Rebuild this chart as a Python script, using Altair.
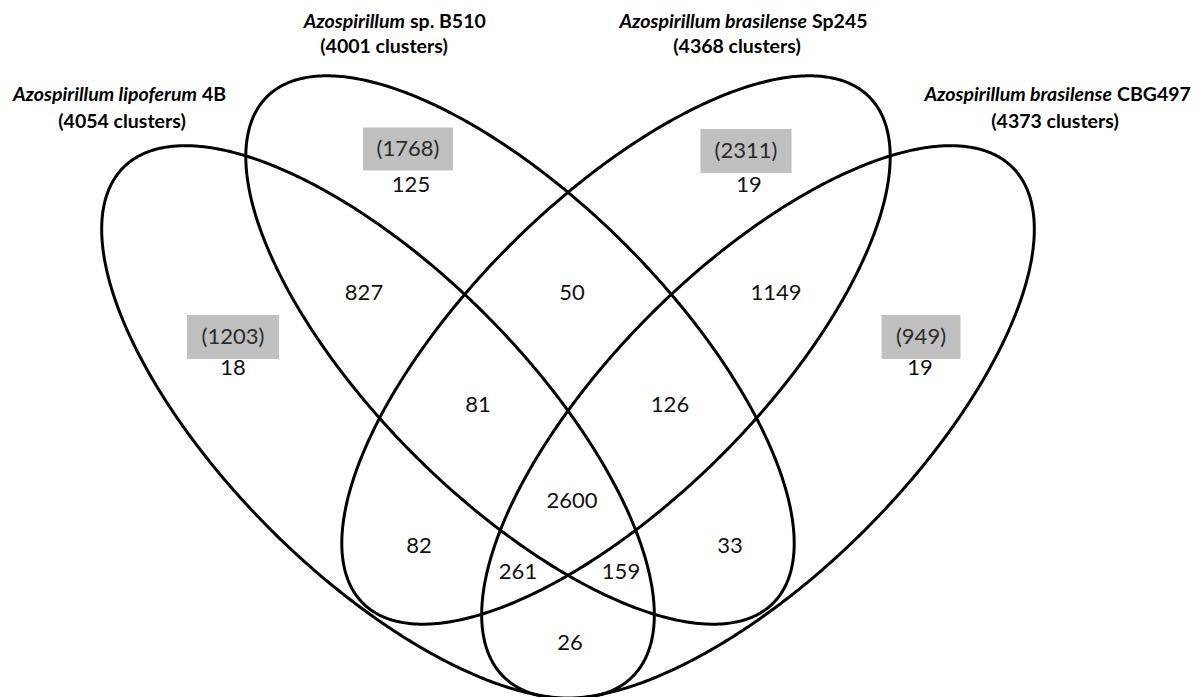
import altair as alt
import numpy as np
import pandas as pd

# ---- sets (ellipses) ----
set_names = ["A. lipoferum 4B", "Azospirillum sp. B510", "A. brasilense Sp245", "A. brasilense CBG497"]
ell_cx = [378, 520, 616, 758]
ell_cy = [422, 350, 350, 422]
ell_a = [360, 358, 358, 360]
ell_b = [152, 149, 149, 152]
ell_angle = [45, 45, -45, -45]

# ---- region counts ----
region_values = ["125", "19", "18", "19", "827", "50", "1149", "81", "126",
                 "2600", "82", "33", "261", "159", "26"]
region_x = [411, 749, 233, 920, 364, 572, 776, 478, 670, 572, 419, 730, 518, 621, 570]
region_y = [185, 185, 368, 368, 293, 293, 293, 405, 405, 501, 546, 546, 572, 572, 643]

# ---- unique-gene counts (grey boxes) ----
unique_values = ["(1768)", "(2311)", "(1203)", "(949)"]
unique_x = [408, 746, 233, 921]
unique_y = [149, 151, 337, 337]
box_w = [90, 91, 92, 79]
box_h = [43, 44, 44, 44]

# ---- titles ----
title_italic = ["Azospirillum lipoferum", "Azospirillum", "Azospirillum  brasilense", "Azospirillum  brasilense"]
title_plain = ["4B", "sp. B510", "Sp245", "CBG497"]
title_clusters = ["(4054 clusters)", "(4001 clusters)", "(4368 clusters)", "(4373 clusters)"]
title_split = [197, 405, 807, 1112]
title_center = [122, 384, 737, 1055]
title_y1 = [95, 22, 22, 95]
title_y2 = [122, 47, 47, 122]

W, H = 1186, 681
xs = alt.Scale(domain=[8, 8 + W])
ys = alt.Scale(domain=[8, 8 + H], reverse=True)

# ellipse outlines
rows = []
t = np.linspace(0, 2 * np.pi, 721)
for name, cx, cy, a, b, ang in zip(set_names, ell_cx, ell_cy, ell_a, ell_b, ell_angle):
    th = np.deg2rad(ang)
    ex = cx + a * np.cos(t) * np.cos(th) - b * np.sin(t) * np.sin(th)
    ey = cy + a * np.cos(t) * np.sin(th) + b * np.sin(t) * np.cos(th)
    for i, (px, py) in enumerate(zip(ex, ey)):
        rows.append({"set": name, "i": i, "x": px, "y": py})
ell_df = pd.DataFrame(rows)

lines = alt.Chart(ell_df).mark_line(color="black", strokeWidth=3).encode(
    x=alt.X("x:Q", scale=xs, axis=None),
    y=alt.Y("y:Q", scale=ys, axis=None),
    detail="set:N",
    order="i:Q",
)

box_df = pd.DataFrame({
    "label": unique_values,
    "x": [cx - w / 2 for cx, w in zip(unique_x, box_w)],
    "x2": [cx + w / 2 for cx, w in zip(unique_x, box_w)],
    "y": [cy - h / 2 for cy, h in zip(unique_y, box_h)],
    "y2": [cy + h / 2 for cy, h in zip(unique_y, box_h)],
    "cx": unique_x,
    "cy": unique_y,
})
boxes = alt.Chart(box_df).mark_rect(color="#c0c0c0").encode(
    x=alt.X("x:Q", scale=xs, axis=None), x2="x2:Q",
    y=alt.Y("y:Q", scale=ys, axis=None), y2="y2:Q",
)
box_text = alt.Chart(box_df).mark_text(font="Lato", fontSize=22, color="#2b2b2b",
                                       baseline="middle", align="center").encode(
    x=alt.X("cx:Q", scale=xs, axis=None),
    y=alt.Y("cy:Q", scale=ys, axis=None),
    text="label:N",
)

reg_df = pd.DataFrame({"label": region_values, "x": region_x, "y": region_y})
reg_text = alt.Chart(reg_df).mark_text(font="Lato", fontSize=22, color="#111111",
                                       baseline="middle", align="center").encode(
    x=alt.X("x:Q", scale=xs, axis=None),
    y=alt.Y("y:Q", scale=ys, axis=None),
    text="label:N",
)

tdf = pd.DataFrame({
    "it": title_italic, "pl": title_plain, "cl": title_clusters,
    "split": title_split, "xr": [s + 5 for s in title_split],
    "center": title_center, "y1": title_y1, "y2": title_y2,
})
t_it = alt.Chart(tdf).mark_text(font="Lato", fontSize=19.5, fontWeight="bold", fontStyle="italic",
                                color="black", align="right", baseline="middle").encode(
    x=alt.X("split:Q", scale=xs, axis=None),
    y=alt.Y("y1:Q", scale=ys, axis=None),
    text="it:N",
)
t_pl = alt.Chart(tdf).mark_text(font="Lato", fontSize=19.5, fontWeight="bold",
                                color="black", align="left", baseline="middle").encode(
    x=alt.X("xr:Q", scale=xs, axis=None),
    y=alt.Y("y1:Q", scale=ys, axis=None),
    text="pl:N",
)
t_cl = alt.Chart(tdf).mark_text(font="Lato", fontSize=19.5, fontWeight="bold",
                                color="black", align="center", baseline="middle").encode(
    x=alt.X("center:Q", scale=xs, axis=None),
    y=alt.Y("y2:Q", scale=ys, axis=None),
    text="cl:N",
)

chart = alt.layer(lines, boxes, box_text, reg_text, t_it, t_pl, t_cl).properties(
    width=W, height=H, padding=0
).configure_view(stroke=None)

chart.save("out.html", embed_options={"renderer": "svg", "actions": False})
